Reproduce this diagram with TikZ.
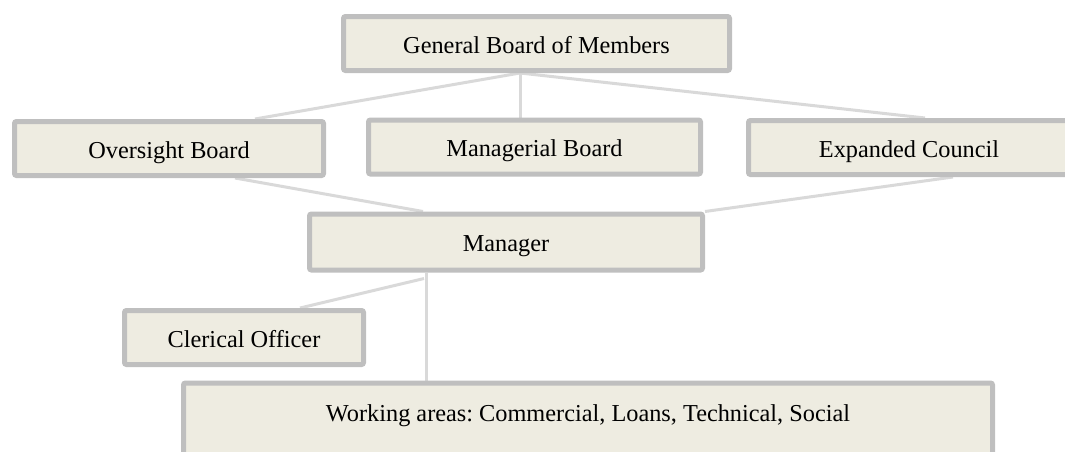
\documentclass[tikz,border=0pt]{standalone}
\usepackage{fontspec}
\setmainfont{Liberation Serif}
\usepackage{tikz}
\usetikzlibrary{calc,backgrounds}
\definecolor{boxfill}{HTML}{EEECE1}
\definecolor{boxline}{HTML}{BFBFBF}
\definecolor{linkline}{HTML}{D9D9D9}
\frenchspacing

\begin{document}
\begin{tikzpicture}[x=0.5pt, y=-0.5pt,
    box/.style={draw=boxline, fill=boxfill, line width=2.5pt, rounded corners=1pt,
        inner sep=0pt, minimum height=27pt, text height=9.5pt, text depth=0pt,
        font=\fontsize{12.15}{14}\selectfont},
    link/.style={draw=linkline, line width=1.5pt}]
\useasboundingbox (0,0) rectangle (1065,451);
\clip (0,0) rectangle (1065,451);

\node[box, minimum width=193pt] (general) at (536.5,43.5) {General Board of Members};
\node[box, minimum width=154.5pt] (oversight) at (169,148.5) {Oversight Board};
\node[box, minimum width=166pt] (managerial) at (534.5,147) {Managerial Board};
\node[box, minimum width=160.5pt] (expanded) at (909,147.5) {Expanded Council};
\node[box, minimum width=196.5pt, minimum height=28pt] (manager) at (506,242) {Manager};
\node[box, minimum width=119.5pt] (clerical) at (244,337.5) {Clerical Officer};
\node[box, anchor=north, minimum width=404.5pt, minimum height=0pt, text height=19pt, text depth=50pt]
    (working) at (588,380.5) {Working areas: Commercial, Loans, Technical, Social};

\coordinate (top) at ($(general.south)+(-16.5,0)$);
\coordinate (mid) at ($(manager.south)+(-80,0)$);
\begin{scope}[on background layer]
\draw[link] (top) -- ($(oversight.north)+(86,0)$);
\draw[link] (top) -- (top |- managerial.north);
\draw[link] (top) -- ($(expanded.north)+(16,0)$);
\draw[link] ($(oversight.south)+(66,0)$) -- ($(manager.north)+(-83,0)$);
\draw[link] ($(expanded.south)+(44,0)$) -- (manager.north east);
\draw[link] (mid) -- (mid |- working.north);
\draw[link] ($(mid)+(-2,6)$) -- ($(clerical.north)+(56,0)$);
\end{scope}
\end{tikzpicture}
\end{document}
